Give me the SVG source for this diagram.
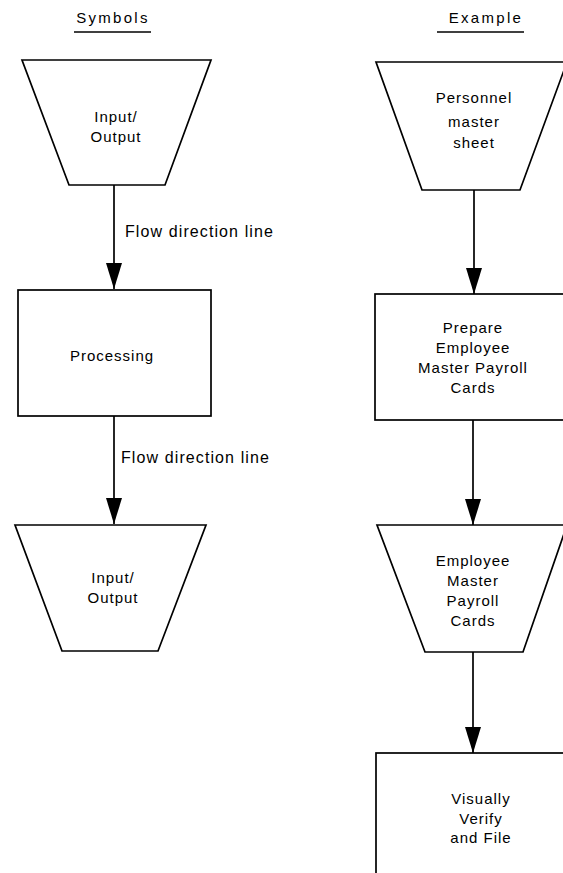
<svg xmlns="http://www.w3.org/2000/svg" width="563" height="873" viewBox="0 0 563 873">
<style>
.shape{fill:#fff;stroke:#000;stroke-width:1.7;stroke-linejoin:miter}
.conn{stroke:#000;stroke-width:1.7;fill:none}
text{font-family:"Liberation Sans",Arial,sans-serif;font-size:15px;fill:#000;letter-spacing:1px}
.c{text-anchor:middle}
.h{letter-spacing:2.3px}
.lbl{font-size:16px;letter-spacing:1.1px}
</style>
<defs>
<marker id="ah" viewBox="0 0 26 16" refX="26" refY="8" markerWidth="26" markerHeight="16" markerUnits="userSpaceOnUse" orient="auto">
<path d="M0,0 L26,8 L0,16 z" fill="#000"/>
</marker>
</defs>
<rect width="563" height="873" fill="#fff"/>
<g id="headers">
<text class="c h" x="113" y="23">Symbols</text>
<line class="conn" x1="74" y1="32" x2="151" y2="32"/>
<text class="c h" x="486" y="23">Example</text>
<line class="conn" x1="437" y1="32" x2="524" y2="32"/>
</g>
<g id="connectors">
<line class="conn" x1="114" y1="185" x2="114" y2="289" marker-end="url(#ah)"/>
<line class="conn" x1="114" y1="416" x2="114" y2="524" marker-end="url(#ah)"/>
<line class="conn" x1="474" y1="190" x2="474" y2="294" marker-end="url(#ah)"/>
<line class="conn" x1="473" y1="420" x2="473" y2="525" marker-end="url(#ah)"/>
<line class="conn" x1="473" y1="652" x2="473" y2="753" marker-end="url(#ah)"/>
<text class="lbl" x="125" y="237">Flow direction line</text>
<text class="lbl" x="121" y="463">Flow direction line</text>
</g>
<g id="sym-io-1">
<polygon class="shape" points="22,60 211,60 165,185 69,185"/>
<text class="c" x="116" y="122">Input/</text>
<text class="c" x="116" y="142">Output</text>
</g>
<g id="sym-processing">
<rect class="shape" x="18" y="290" width="193" height="126"/>
<text class="c" x="112" y="361">Processing</text>
</g>
<g id="sym-io-2">
<polygon class="shape" points="15,525 206,525 158,651 62,651"/>
<text class="c" x="113" y="583">Input/</text>
<text class="c" x="113" y="603">Output</text>
</g>
<g id="ex-personnel">
<polygon class="shape" points="376,62 567,62 520,190 422,190"/>
<text class="c" x="474" y="103">Personnel</text>
<text class="c" x="474" y="127">master</text>
<text class="c" x="474" y="148">sheet</text>
</g>
<g id="ex-prepare">
<rect class="shape" x="375" y="294" width="200" height="126"/>
<text class="c" x="473" y="333">Prepare</text>
<text class="c" x="473" y="353">Employee</text>
<text class="c" x="473" y="373">Master Payroll</text>
<text class="c" x="473" y="393">Cards</text>
</g>
<g id="ex-cards">
<polygon class="shape" points="377,525 567,525 523,652 425,652"/>
<text class="c" x="473" y="566">Employee</text>
<text class="c" x="473" y="586">Master</text>
<text class="c" x="473" y="606">Payroll</text>
<text class="c" x="473" y="626">Cards</text>
</g>
<g id="ex-verify">
<rect class="shape" x="376" y="753" width="200" height="130"/>
<text class="c" x="481" y="804">Visually</text>
<text class="c" x="481" y="824">Verify</text>
<text class="c" x="481" y="843">and File</text>
</g>
</svg>
